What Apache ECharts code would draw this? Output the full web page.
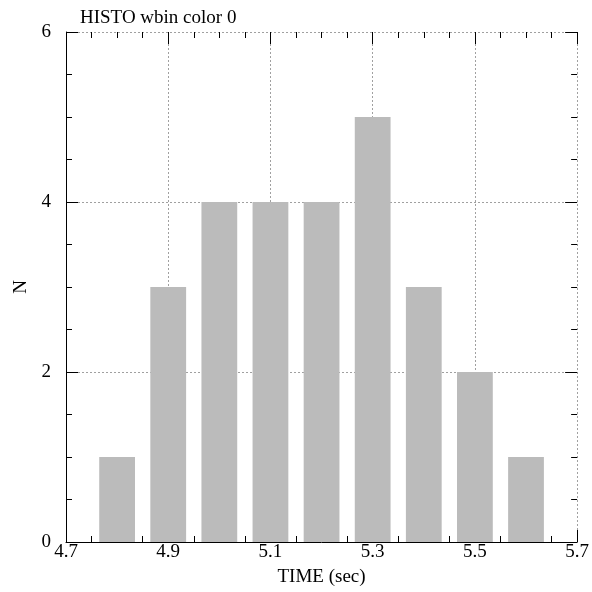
<!DOCTYPE html>
<html><head><meta charset="utf-8">
<script src="https://cdn.jsdelivr.net/npm/echarts@6/dist/echarts.min.js"></script>
<style>html,body{margin:0;padding:0;background:#fff}#c{width:592px;height:592px}</style>
</head><body><div id="c"></div>
<script>
const binCenters = [4.8, 4.9, 5.0, 5.1, 5.2, 5.3, 5.4, 5.5, 5.6];
const counts = [1, 3, 4, 4, 4, 5, 3, 2, 1];
const binWidth = 0.07;
const xTickLabels = ['4.7', '4.9', '5.1', '5.3', '5.5', '5.7'];
const yTickLabels = ['0', '2', '4', '6'];

const font = 'Liberation Serif';
const fs = 19;
const chart = echarts.init(document.getElementById('c'), null, {renderer: 'canvas'});
const data = binCenters.map((c, i) => [c, counts[i]]);
const tickInside = () => ({show: true, inside: true, length: 12, lineStyle: {color: '#000', width: 1}});
const minorInside = () => ({show: true, splitNumber: 4, length: 6, lineStyle: {color: '#000', width: 1}});
const gridLine = () => ({show: true, lineStyle: {color: '#a0a0a0', type: [2, 2], width: 1}});
chart.setOption({
  animation: false,
  title: {text: 'HISTO wbin color 0', left: 75, top: 4,
    textStyle: {fontFamily: font, fontSize: fs, fontWeight: 'normal', color: '#000'}},
  grid: {left: 66, right: 13, top: 32, bottom: 49, containLabel: false},
  xAxis: [{
    type: 'value', min: 4.7, max: 5.7, interval: 0.2, position: 'bottom',
    name: 'TIME (sec)', nameLocation: 'middle', nameGap: 26,
    nameTextStyle: {fontFamily: font, fontSize: fs, color: '#000'},
    axisLine: {show: true, onZero: false, lineStyle: {color: '#000', width: 1}},
    axisTick: tickInside(), minorTick: minorInside(), splitLine: gridLine(),
    axisLabel: {fontFamily: font, fontSize: fs, color: '#000', margin: 1,
      formatter: v => { const s = v.toFixed(1); return xTickLabels.includes(s) ? s : ''; }}
  }, {
    type: 'value', min: 4.7, max: 5.7, interval: 0.2, position: 'top',
    axisLine: {show: false, onZero: false}, axisTick: tickInside(),
    minorTick: minorInside(), splitLine: {show: false}, axisLabel: {show: false}
  }],
  yAxis: [{
    type: 'value', min: 0, max: 6, interval: 2, position: 'left',
    name: 'N', nameLocation: 'middle', nameGap: 34, nameRotate: 90,
    nameTextStyle: {fontFamily: font, fontSize: fs, color: '#000'},
    axisLine: {show: true, onZero: false, lineStyle: {color: '#000', width: 1}},
    axisTick: tickInside(), minorTick: minorInside(), splitLine: gridLine(),
    axisLabel: {fontFamily: font, fontSize: fs, color: '#000', margin: 15,
      formatter: v => { const s = String(v); return yTickLabels.includes(s) ? s : ''; }}
  }, {
    type: 'value', min: 0, max: 6, interval: 2, position: 'right',
    axisLine: {show: false, onZero: false}, axisTick: tickInside(), minorTick: minorInside(),
    splitLine: {show: false}, axisLabel: {show: false}
  }],
  series: [{
    type: 'custom', xAxisIndex: 0, yAxisIndex: 0, z: 5,
    data: data,
    renderItem: function (params, api) {
      const x = api.value(0), y = api.value(1);
      const p0 = api.coord([x - binWidth / 2, y]);
      const p1 = api.coord([x + binWidth / 2, 0]);
      return {type: 'rect', shape: {x: p0[0], y: p0[1], width: p1[0] - p0[0], height: p1[1] - p0[1]},
        style: {fill: '#bbbbbb'}};
    },
    encode: {x: 0, y: 1}
  }]
});
</script></body></html>
